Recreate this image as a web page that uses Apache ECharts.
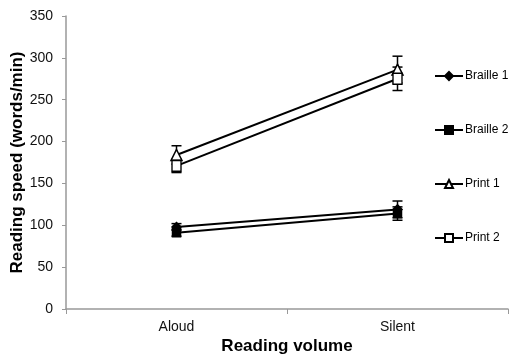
<!DOCTYPE html>
<html>
<head>
<meta charset="utf-8">
<script src="https://cdn.jsdelivr.net/npm/echarts@6/dist/echarts.min.js"></script>
<style>
  html, body { margin: 0; padding: 0; background: #fff; }
  #chart { width: 514px; height: 357px; }
</style>
</head>
<body>
<div id="chart"></div>
<script>
// Reading speed by reading volume, mean ± error
const categories = ['Aloud', 'Silent'];
const yTicks = [0, 50, 100, 150, 200, 250, 300, 350];

const braille1 = [98, 119];
const braille1Err = [4, 10];
const braille2 = [91, 114];
const braille2Err = [4, 8];
const print1 = [184, 286];
const print1Err = [11, 16];
const print2 = [171, 275];
const print2Err = [8, 14];

const seriesDefs = [
  { name: 'Braille 1', values: braille1, errs: braille1Err, symbol: 'diamond', size: 9, fill: '#000' },
  { name: 'Braille 2', values: braille2, errs: braille2Err, symbol: 'rect', size: 8, fill: '#000' },
  { name: 'Print 1', values: print1, errs: print1Err, symbol: 'triangle', size: 11, fill: '#fff' },
  { name: 'Print 2', values: print2, errs: print2Err, symbol: 'rect', size: [9, 11], fill: '#fff' }
];

function errorBarSeries(def) {
  return {
    type: 'custom',
    name: def.name + ' error',
    z: 1,
    silent: true,
    data: def.values.map((v, i) => [i, v - def.errs[i], v + def.errs[i]]),
    renderItem: function (params, api) {
      const lo = api.coord([api.value(0), api.value(1)]);
      const hi = api.coord([api.value(0), api.value(2)]);
      const cap = 5;
      const style = { stroke: '#000', lineWidth: 1.5 };
      return {
        type: 'group',
        children: [
          { type: 'line', shape: { x1: lo[0], y1: lo[1], x2: hi[0], y2: hi[1] }, style: style },
          { type: 'line', shape: { x1: lo[0] - cap, y1: lo[1], x2: lo[0] + cap, y2: lo[1] }, style: style },
          { type: 'line', shape: { x1: hi[0] - cap, y1: hi[1], x2: hi[0] + cap, y2: hi[1] }, style: style }
        ]
      };
    }
  };
}

const lineSeries = seriesDefs.map(def => ({
  type: 'line',
  name: def.name,
  data: def.values,
  z: 3,
  symbol: def.symbol,
  symbolSize: def.size,
  showAllSymbol: true,
  lineStyle: { color: '#000', width: 2 },
  itemStyle: { color: def.fill, borderColor: '#000', borderWidth: 1.5 },
  emphasis: { disabled: true }
}));

const chart = echarts.init(document.getElementById('chart'), null, { renderer: 'canvas' });
chart.setOption({
  animation: false,
  backgroundColor: '#fff',
  textStyle: { fontFamily: 'Liberation Sans, Arial, sans-serif' },
  grid: { left: 66, right: 6, top: 16, bottom: 48, containLabel: false, outerBoundsMode: 'none' },
  legend: {
    orient: 'vertical',
    left: 429,
    top: 65,
    itemGap: 42,
    itemWidth: 28,
    itemHeight: 10,
    textStyle: { color: '#000', fontSize: 12, fontFamily: 'Liberation Sans, Arial, sans-serif', padding: [0, 0, 0, -3] },
    data: seriesDefs.map(d => d.name)
  },
  xAxis: {
    type: 'category',
    data: categories,
    boundaryGap: true,
    name: 'Reading volume',
    nameLocation: 'middle',
    nameGap: 29,
    nameMoveOverlap: false,
    nameTextStyle: { fontWeight: 'bold', fontSize: 17, color: '#000' },
    axisLine: { lineStyle: { color: '#999', width: 1.5 } },
    axisTick: { show: true, length: 5, lineStyle: { color: '#999' } },
    axisLabel: { color: '#111', fontSize: 14, margin: 11 },
    splitLine: { show: false }
  },
  yAxis: {
    type: 'value',
    min: 0,
    max: yTicks[yTicks.length - 1],
    interval: yTicks[1] - yTicks[0],
    name: 'Reading speed (words/min)',
    nameLocation: 'middle',
    nameGap: 40,
    nameMoveOverlap: false,
    nameTextStyle: { fontWeight: 'bold', fontSize: 17, color: '#000' },
    axisLine: { show: true, lineStyle: { color: '#999', width: 1.5 } },
    axisTick: { show: true, length: 4, lineStyle: { color: '#999' } },
    axisLabel: { color: '#111', fontSize: 14, margin: 13 },
    splitLine: { show: false }
  },
  series: lineSeries.concat(seriesDefs.map(errorBarSeries))
});
</script>
</body>
</html>
